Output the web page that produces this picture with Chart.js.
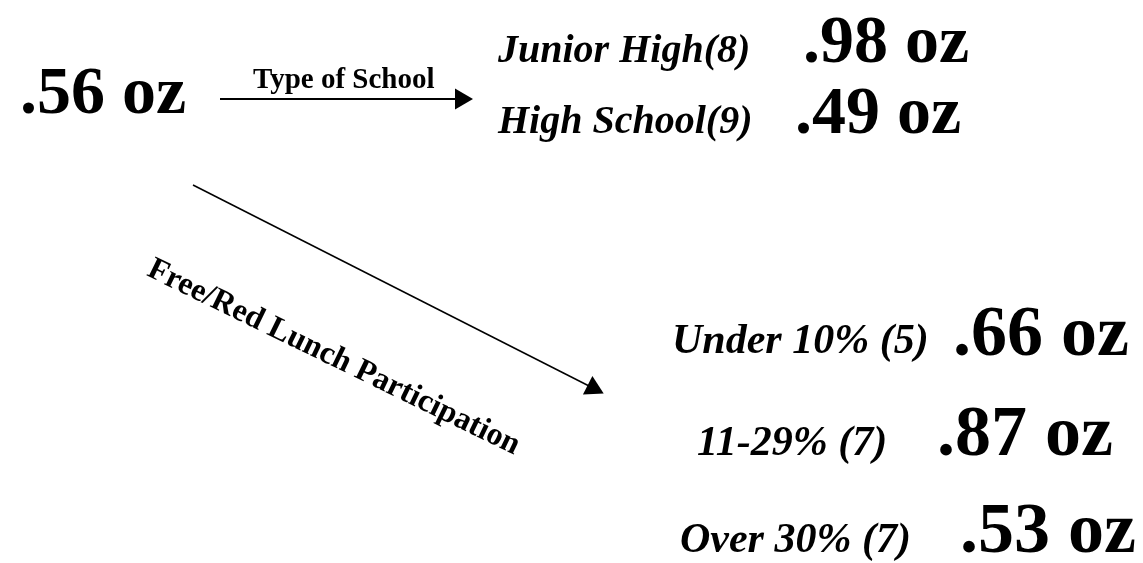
<!DOCTYPE html>
<html>
<head>
<meta charset="utf-8">
<script src="https://cdn.jsdelivr.net/npm/chart.js@4.4.1/dist/chart.umd.min.js"></script>
<style>
  html, body { margin: 0; padding: 0; background: #fff; }
  #wrap { width: 1143px; height: 563px; position: relative; }
</style>
</head>
<body>
<div id="wrap"><canvas id="ozChart"></canvas></div>
<script>
// --- data ---
const overallValue = [0.56];
const schoolTypes = ['Junior High(8)', 'High School(9)'];
const schoolValues = [0.98, 0.49];
const lunchGroups = ['Under 10% (5)', '11-29% (7)', 'Over 30% (7)'];
const lunchValues = [0.66, 0.87, 0.53];
const arrowLabels = ['Type of School', 'Free/Red Lunch Participation'];

// --- layout (page units, same as pixels) ---
const overallPos = [{ x: 20, y: 113 }];
const schoolLabelPos = [{ x: 498, y: 62 }, { x: 498, y: 133 }];
const schoolValuePos = [{ x: 803, y: 62 }, { x: 795, y: 133 }];
const lunchLabelPos = [{ x: 672, y: 353 }, { x: 697, y: 455 }, { x: 680, y: 552 }];
const lunchValuePos = [{ x: 953, y: 355 }, { x: 937, y: 455 }, { x: 960, y: 552 }];
const schoolArrow = [{ x: 220, y: 99 }, { x: 461, y: 99 }];
const lunchArrow = [{ x: 193, y: 185 }, { x: 593, y: 388 }];

const fmtOz = (v) => v.toFixed(2).replace(/^0/, '') + ' oz';
const serif = '"Liberation Serif", "Times New Roman", serif';

// plugin that writes the labels at the points placed by the scales
const textPlugin = {
    id: 'diagramText',
    afterDatasetsDraw(chart) {
        const ctx = chart.ctx;
        const xs = chart.scales.x, ys = chart.scales.y;
        ctx.save();
        ctx.fillStyle = '#000';
        ctx.textBaseline = 'alphabetic';
        ctx.textAlign = 'left';

        chart.data.datasets.forEach((ds, i) => {
            if (!ds.textLabels) return;
            const meta = chart.getDatasetMeta(i);
            ctx.font = ds.textFont;
            meta.data.forEach((pt, j) => {
                ctx.fillText(ds.textLabels[j], pt.x, pt.y);
            });
        });

        // arrow captions
        ctx.font = 'bold 29px ' + serif;
        ctx.fillText(arrowLabels[0], xs.getPixelForValue(253), ys.getPixelForValue(88));

        ctx.translate(xs.getPixelForValue(330), ys.getPixelForValue(365));
        ctx.rotate(26 * Math.PI / 180);
        ctx.textAlign = 'center';
        ctx.font = 'bold 32px ' + serif;
        ctx.fillText(arrowLabels[1], 0, 0);
        ctx.restore();
    }
};

const hidden = { pointRadius: 0, showLine: false };

new Chart(document.getElementById('ozChart'), {
    type: 'scatter',
    data: {
        datasets: [
            {
                label: 'Type of School',
                data: schoolArrow,
                showLine: true,
                borderColor: '#000',
                borderWidth: 2,
                pointStyle: 'triangle',
                pointRotation: 90,
                pointRadius: [0, 12],
                backgroundColor: '#000',
                pointBorderWidth: 0
            },
            {
                label: 'Free/Red Lunch Participation',
                data: lunchArrow,
                showLine: true,
                borderColor: '#000',
                borderWidth: 1.5,
                pointStyle: 'triangle',
                pointRotation: 117,
                pointRadius: [0, 12],
                backgroundColor: '#000',
                pointBorderWidth: 0
            },
            Object.assign({
                label: 'overall',
                data: overallPos,
                textLabels: overallValue.map(fmtOz),
                textFont: 'bold 68px ' + serif
            }, hidden),
            Object.assign({
                label: 'school types',
                data: schoolLabelPos,
                textLabels: schoolTypes,
                textFont: 'italic bold 40px ' + serif
            }, hidden),
            Object.assign({
                label: 'school values',
                data: schoolValuePos,
                textLabels: schoolValues.map(fmtOz),
                textFont: 'bold 68px ' + serif
            }, hidden),
            Object.assign({
                label: 'lunch groups',
                data: lunchLabelPos,
                textLabels: lunchGroups,
                textFont: 'italic bold 42px ' + serif
            }, hidden),
            Object.assign({
                label: 'lunch values',
                data: lunchValuePos,
                textLabels: lunchValues.map(fmtOz),
                textFont: 'bold 72px ' + serif
            }, hidden)
        ]
    },
    options: {
        responsive: true,
        maintainAspectRatio: false,
        animation: false,
        layout: { padding: 0, autoPadding: false },
        scales: {
            x: { type: 'linear', min: 0, max: 1143, display: false },
            y: { type: 'linear', min: 0, max: 563, reverse: true, display: false }
        },
        plugins: {
            legend: { display: false },
            tooltip: { enabled: false }
        }
    },
    plugins: [textPlugin]
});
</script>
</body>
</html>
